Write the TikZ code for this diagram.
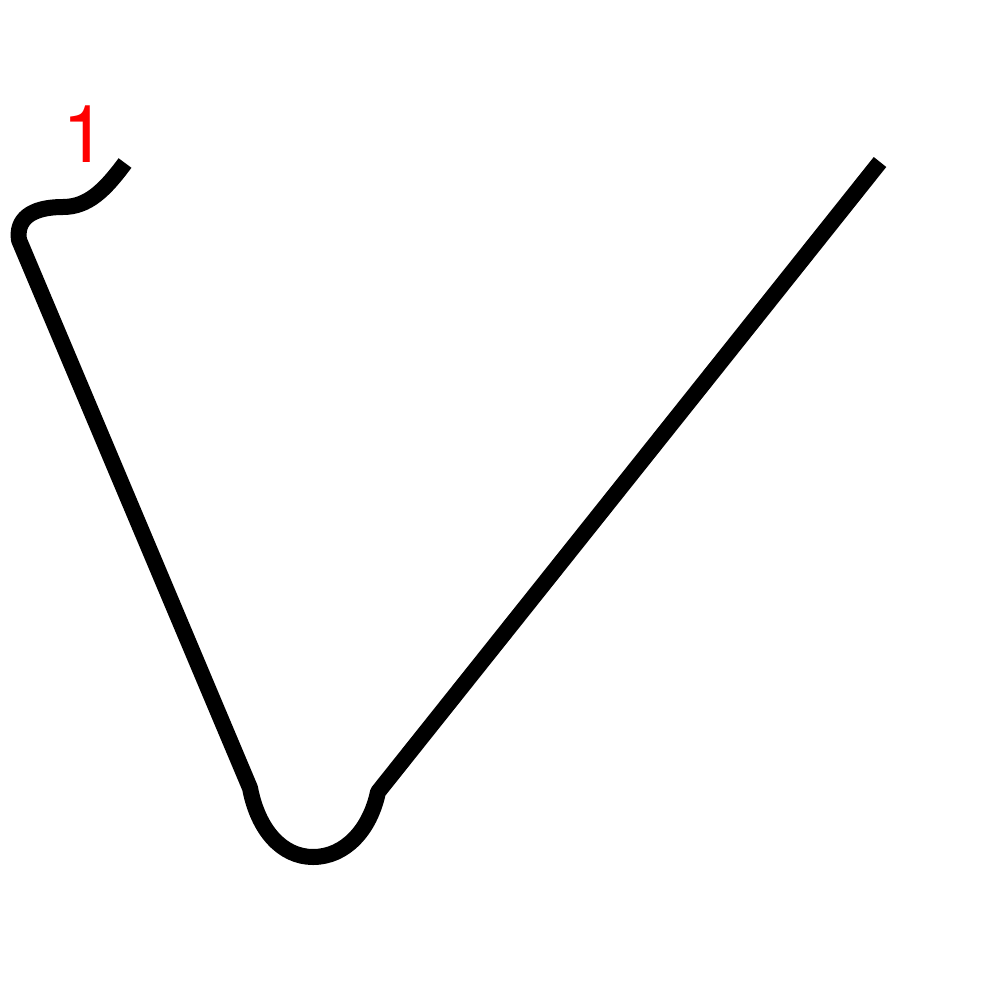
\documentclass[tikz,border=0pt]{standalone}
\usepackage{fontspec}
\setmainfont{TeX Gyre Heros}
\usepackage{xcolor}
\usepackage{tikz}

\begin{document}
\begin{tikzpicture}[
    x=1pt, y=-1pt,
    stroke/.style={draw=black, line width=16pt, line cap=butt, line join=round},
    num/.style={text=red, inner sep=0pt, font=\fontsize{80}{80}\selectfont}
]
\useasboundingbox (0,0) rectangle (1000,1000);
\node[num] (n1) at (85,134) {1};
\draw[stroke] (125,163) .. controls (105,190) and (88,207) .. (63,207)
    .. controls (30,207) and (16,220) .. (19,240)
    -- (250,788)
    .. controls (258,830) and (282,857) .. (313,857)
    .. controls (345,857) and (370,830) .. (378,792)
    -- (880,162);
\end{tikzpicture}
\end{document}
